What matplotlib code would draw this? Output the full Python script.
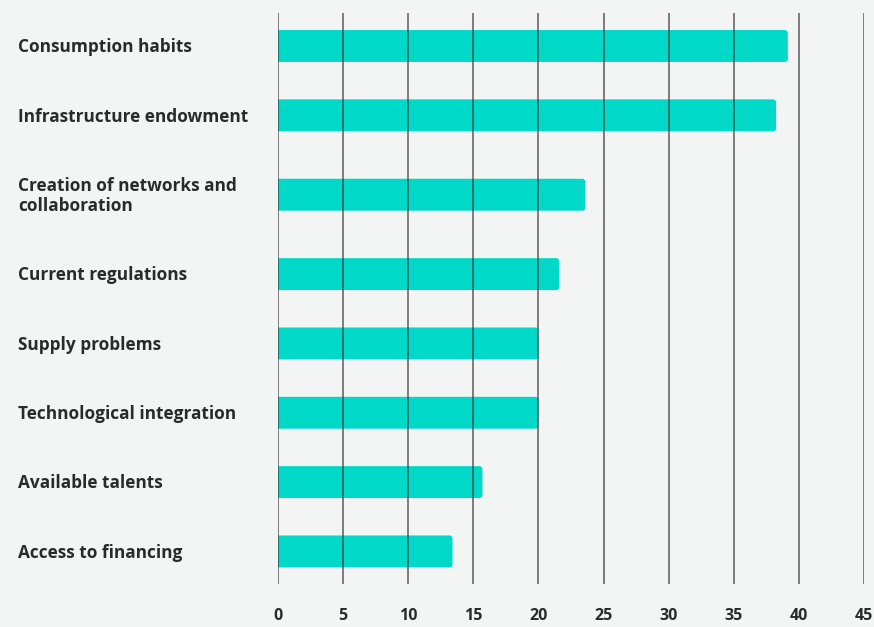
import matplotlib
matplotlib.use("Agg")
import matplotlib.pyplot as plt
from matplotlib.patches import FancyBboxPatch
import matplotlib.transforms as mtransforms

categories = [
    "Consumption habits",
    "Infrastructure endowment",
    "Creation of networks and\ncollaboration",
    "Current regulations",
    "Supply problems",
    "Technological integration",
    "Available talents",
    "Access to financing",
]
values = [39.15, 38.25, 23.6, 21.6, 20.0, 20.0, 15.7, 13.4]
xticks = [0, 5, 10, 15, 20, 25, 30, 35, 40, 45]

BG = "#f3f5f4"
BAR = "#00d9c7"
TXT = "#2a2a2a"
FONT = "Open Sans"

# row positions: extra spacing for multi-line labels
extra = [c.count("\n") for c in categories]
pos = [0.0]
for i in range(1, len(categories)):
    pos.append(pos[-1] + 1 + 0.145 * (extra[i - 1] + extra[i]))

fig = plt.figure(figsize=(8.74, 6.27), dpi=100, facecolor=BG)
ax = fig.add_axes([278 / 874, 1 - 584 / 627, 586 / 874, (584 - 13) / 627])
ax.set_facecolor(BG)
ax.set_xlim(0, 45)
ylim = (pos[-1] + 0.47, -0.476)
ax.set_ylim(*ylim)

# aspect to keep rounded corners circular
ax_w_px = 586
ax_h_px = 584 - 13
x_per_px = 45 / ax_w_px
y_per_px = (ylim[0] - ylim[1]) / ax_h_px
r = 3 * x_per_px
start = -1.0  # start left of the axis so the left corners are clipped away

h = 0.46
for p, v in zip(pos, values):
    patch = FancyBboxPatch((start, p - h / 2), v - start, h,
                           boxstyle=f"round,pad=0,rounding_size={r}",
                           mutation_aspect=y_per_px / x_per_px,
                           facecolor=BAR, edgecolor="none", zorder=2,
                           clip_on=True)
    ax.add_patch(patch)

for t in xticks:
    ax.axvline(t, color="#3a3a3a", lw=1.2, alpha=0.75, zorder=3)

for s in ax.spines.values():
    s.set_visible(False)
ax.set_yticks([])
ax.set_xticks(xticks)
ax.set_xticklabels([str(t) for t in xticks], fontsize=11.5, fontweight="bold",
                   color=TXT, family=FONT)
ax.tick_params(axis="x", length=0, pad=17)

trans = mtransforms.blended_transform_factory(fig.transFigure, ax.transData)
for p, c in zip(pos, categories):
    ax.text(18 / 874, p + 0.02, c, transform=trans, ha="left", va="center",
            fontsize=12.4, fontweight="bold", color=TXT, family=FONT,
            linespacing=1.18)

fig.savefig("out.png", dpi=100, facecolor=BG)
